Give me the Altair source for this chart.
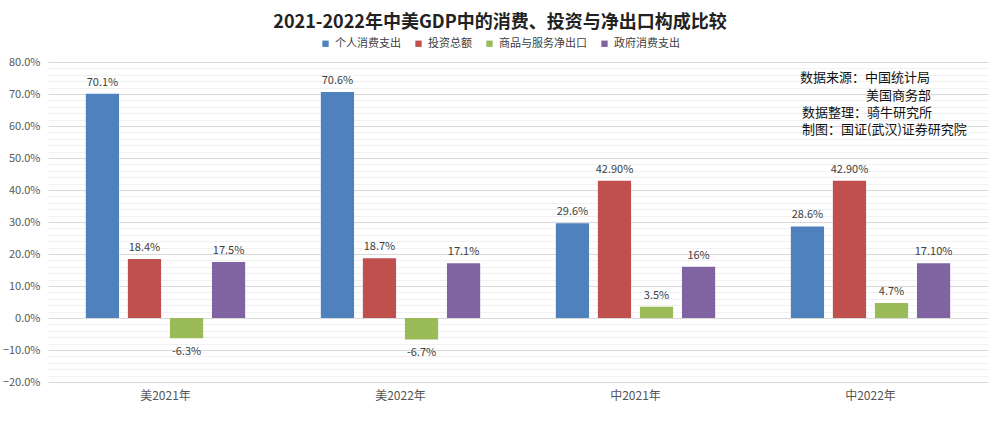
import altair as alt
import pandas as pd

regions = ["美2021年", "美2022年", "中2021年", "中2022年"]
series = ["个人消费支出", "投资总额", "商品与服务净出口", "政府消费支出"]
values = [
    [70.1, 18.4, -6.3, 17.5],
    [70.6, 18.7, -6.7, 17.1],
    [29.6, 42.9, 3.5, 16.0],
    [28.6, 42.9, 4.7, 17.1],
]
labels = [
    ["70.1%", "18.4%", "-6.3%", "17.5%"],
    ["70.6%", "18.7%", "-6.7%", "17.1%"],
    ["29.6%", "42.90%", "3.5%", "16%"],
    ["28.6%", "42.90%", "4.7%", "17.10%"],
]
colors = ["#4F81BD", "#C0504D", "#9BBB59", "#8064A2"]
notes = ["数据来源：中国统计局", "美国商务部", "数据整理：骑牛研究所", "制图：国证(武汉)证券研究院"]
y_ticks = list(range(-20, 82, 2))

rows = []
for i, r in enumerate(regions):
    for j, s in enumerate(series):
        rows.append({"region": r, "series": s, "value": values[i][j], "label": labels[i][j]})
df = pd.DataFrame(rows)

FONT = "Noto Sans CJK SC"

x_enc = alt.X("region:N", sort=regions, title=None,
              scale=alt.Scale(paddingInner=0, paddingOuter=0),
              axis=alt.Axis(labelAngle=0, ticks=False, domain=False, labelFontSize=12,
                            labelColor="#555555", labelPadding=8, labelFont=FONT))
xo_enc = alt.XOffset("series:N", sort=series,
                     scale=alt.Scale(paddingInner=0.21, paddingOuter=0.9))
y_enc = alt.Y("value:Q", title=None,
              scale=alt.Scale(domain=[-20, 80], nice=False, zero=False),
              axis=alt.Axis(values=y_ticks, domain=False, ticks=False,
                            labelOverlap=False, tickCount=51,
                            labelExpr="datum.value % 10 === 0 ? format(datum.value, '.1f') + '%' : ''",
                            labelFontSize=11, labelColor="#595959", labelFont=FONT, labelPadding=8,
                            gridColor={"condition": {"test": "datum.value % 10 === 0", "value": "#d9d9d9"},
                                       "value": "#f1f1f1"}))

base = alt.Chart(df)

bars = base.mark_bar().encode(
    x=x_enc,
    xOffset=xo_enc,
    y=y_enc,
    color=alt.Color("series:N", sort=series, scale=alt.Scale(domain=series, range=colors),
                    legend=alt.Legend(title=None, orient="none", direction="horizontal",
                                      legendX=272, legendY=-24, symbolType="square",
                                      symbolSize=40, labelFontSize=11, labelFont=FONT,
                                      labelColor="#404040", columnPadding=12, symbolStrokeWidth=0)),
)

pos_text = base.transform_filter("datum.value >= 0").mark_text(
    baseline="bottom", dy=-6, fontSize=11, color="#404040", font=FONT
).encode(x=x_enc, xOffset=xo_enc, y=y_enc, text="label:N")

neg_text = base.transform_filter("datum.value < 0").mark_text(
    baseline="top", dy=8, fontSize=11, color="#404040", font=FONT
).encode(x=x_enc, xOffset=xo_enc, y=y_enc, text="label:N")

note_layers = []
note_pos = [(752, 16), (818, 34), (754, 51), (754, 68)]
for k, n in enumerate(notes):
    px, py = note_pos[k]
    note_layers.append(
        alt.Chart(pd.DataFrame({"note": [n]})).mark_text(
            align="left", baseline="middle", fontSize=13, color="#111111", font=FONT
        ).encode(x=alt.value(px), y=alt.value(py), text="note:N")
    )

chart = alt.layer(bars, pos_text, neg_text, *note_layers).properties(
    width=940, height=320,
    background="white",
    title=alt.TitleParams("2021-2022年中美GDP中的消费、投资与净出口构成比较", fontSize=18,
                          font=FONT, fontWeight="bold", color="#222222", anchor="middle",
                          dx=-18, offset=6),
    padding={"left": 48, "top": 62, "right": 12, "bottom": 42},
    autosize=alt.AutoSizeParams(type="none"),
).configure_view(stroke=None)

chart.save("out.html", embed_options={"renderer": "svg", "actions": False})
